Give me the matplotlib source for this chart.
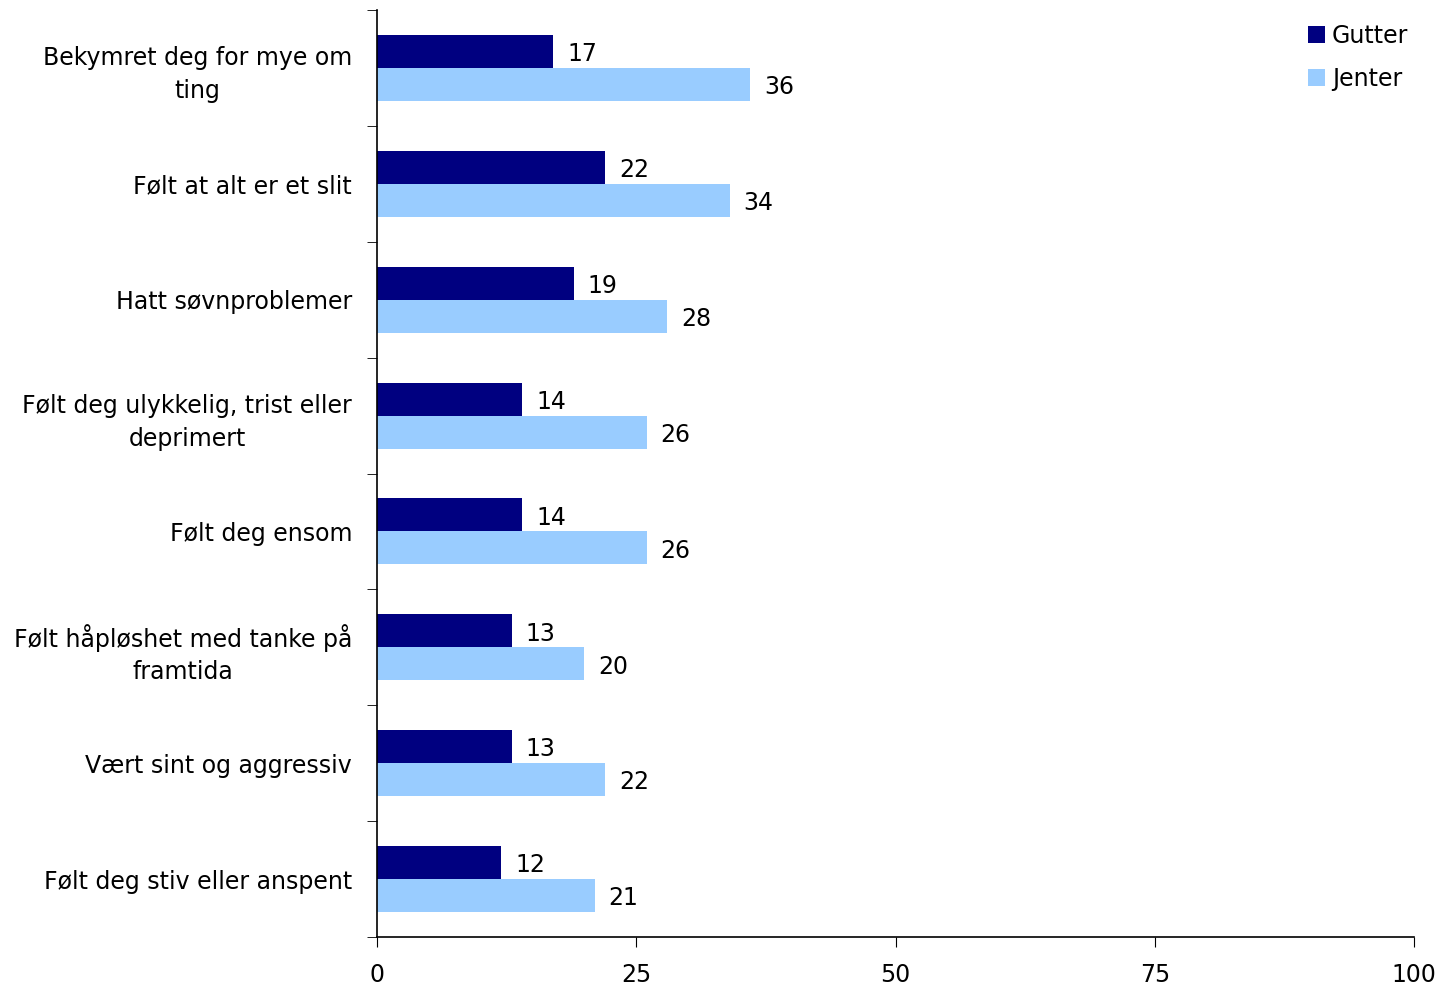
import matplotlib
matplotlib.use("Agg")
import matplotlib.pyplot as plt
import numpy as np

categories = ["Bekymret deg for mye om\nting", "Følt at alt er et slit", "Hatt søvnproblemer",
              "Følt deg ulykkelig, trist eller\ndeprimert", "Følt deg ensom",
              "Følt håpløshet med tanke på\nframtida", "Vært sint og aggressiv",
              "Følt deg stiv eller anspent"]
gutter = [17, 22, 19, 14, 14, 13, 13, 12]
jenter = [36, 34, 28, 26, 26, 20, 22, 21]
series_names = ["Gutter", "Jenter"]
xticks = [0, 25, 50, 75, 100]

FS = 17
plt.rcParams['font.family'] = ['DejaVu Sans']
fig = plt.figure(figsize=(14.47, 9.89), dpi=100)
ax = fig.add_axes([377/1447, 1-937/989, (1414-377)/1447, (937-10)/989])

y = np.arange(len(categories))
h = 0.285
b1 = ax.barh(y - h/2, gutter, height=h, color="#000080", label=series_names[0])
b2 = ax.barh(y + h/2, jenter, height=h, color="#99CCFF", label=series_names[1])
for bars, vals in ((b1, gutter), (b2, jenter)):
    for rect, v in zip(bars, vals):
        ax.annotate(str(v), (rect.get_width(), rect.get_y() + rect.get_height()/2),
                    xytext=(10, -2), textcoords="offset points", va="center", ha="left",
                    fontsize=FS)

ax.set_ylim(len(categories) - 0.5, -0.5)
ax.set_xlim(0, 100)
ax.set_yticks(y)
ax.set_yticklabels(categories, fontsize=FS, multialignment="center", linespacing=1.45)
ax.tick_params(axis="y", which="major", length=0, pad=18)
ax.set_yticks(np.arange(len(categories) + 1) - 0.5, minor=True)
ax.tick_params(axis="y", which="minor", length=7, direction="out")
ax.set_xticks(xticks)
ax.set_xticklabels([str(t) for t in xticks], fontsize=FS)
ax.tick_params(axis="x", length=7, direction="out", pad=12)
for s in ("top", "right"):
    ax.spines[s].set_visible(False)
for s in ("left", "bottom"):
    ax.spines[s].set_linewidth(1.2)

leg = ax.legend(loc="upper right", bbox_to_anchor=(1.015, 1.008), frameon=False, fontsize=FS,
                handlelength=0.7, handleheight=0.7, handletextpad=0.3, labelspacing=0.8)

fig.savefig("out.png", dpi=100)
